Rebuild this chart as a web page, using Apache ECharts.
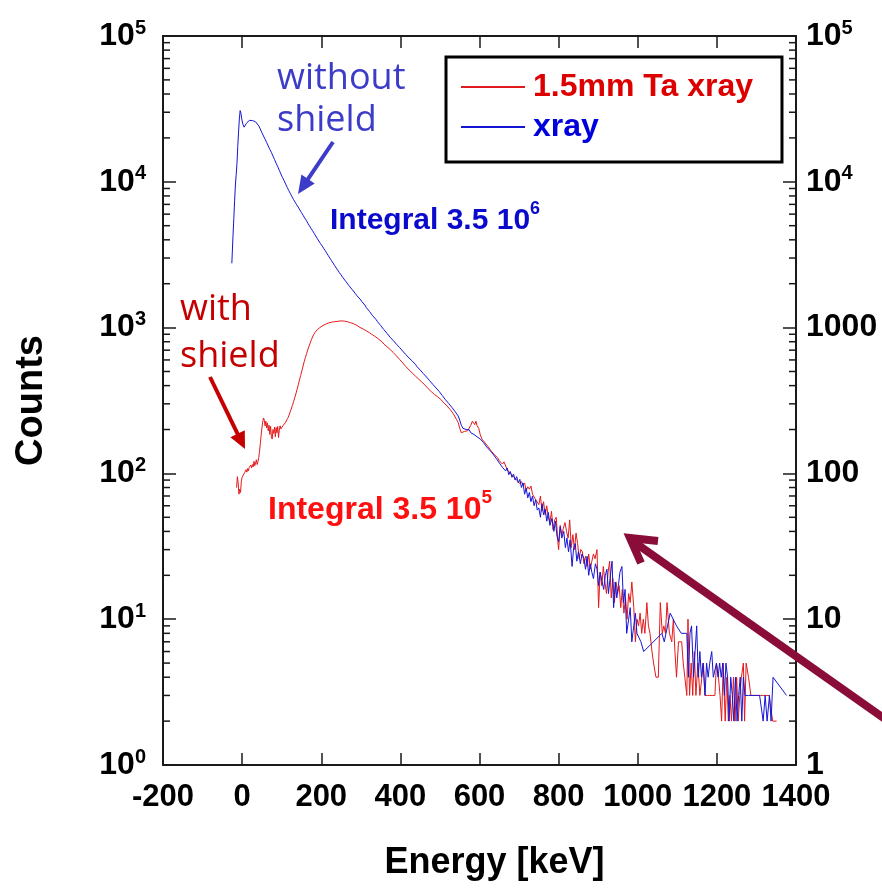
<!DOCTYPE html>
<html>
<head>
<meta charset="utf-8">
<title>Energy spectrum with and without Ta shield</title>
<script src="https://cdn.jsdelivr.net/npm/echarts@6/dist/echarts.min.js"></script>
<style>
  html, body { margin: 0; padding: 0; background: #fff; }
  #chart { width: 882px; height: 891px; }
</style>
</head>
<body>
<div id="chart"></div>
<script>
// ---- data: [energy keV, counts] ----
const shieldedSpectrum = [
  [-14,80],[-12,95],[-10,86],[-8,72],[-6,78],[-4,74],[-2,88],[0,94],[2,97],[4,92],[6,101],[8,98],
  [10,106],[12,102],[14,108],[16,104],[18,110],[20,107],[22,114],[24,109],[26,115],[28,111],[30,121],
  [32,113],[34,118],[36,124],[38,115],[40,120],[42,128],[44,142],[46,160],[48,182],[50,205],[52,225],
  [54,240],[56,232],[58,212],[60,228],[62,205],[64,222],[66,196],[68,214],[70,185],[72,210],[74,178],
  [76,172],[78,200],[80,188],[82,208],[84,178],[86,206],[88,190],[90,210],[92,176],[94,198],[96,212],
  [98,202],[100,208],[103,212],[106,215],[109,222],[112,226],[115,238],[118,248],[121,262],[124,276],
  [127,292],[130,310],[133,330],[136,352],[139,378],[142,405],[145,438],[148,470],[151,505],[154,545],
  [157,585],[160,625],[163,665],[166,705],[169,745],[172,785],[175,825],[178,862],[181,895],[184,925],
  [187,948],[190,968],[193,985],[196,998],[199,1012],[202,1025],[206,1040],[210,1052],[214,1060],
  [218,1075],[222,1082],[226,1090],[230,1100],[234,1098],[238,1110],[242,1104],[246,1118],[250,1112],
  [254,1116],[258,1108],[262,1112],[266,1098],[270,1092],[274,1080],[278,1070],[282,1062],[286,1045],
  [290,1036],[294,1015],[298,1002],[302,985],[306,978],[310,958],[314,950],[318,930],[322,922],[326,900],
  [330,890],[334,870],[338,862],[342,840],[346,830],[350,808],[354,798],[358,772],[362,762],[366,740],
  [370,728],[374,708],[378,698],[382,675],[386,665],[390,640],[394,628],[398,605],[402,595],[406,572],
  [410,562],[414,540],[418,532],[422,512],[426,505],[430,488],[434,478],[438,465],[442,456],[446,444],
  [450,436],[454,424],[458,418],[462,404],[466,396],[470,382],[474,378],[478,364],[482,358],[486,348],
  [490,345],[494,336],[498,334],[502,322],[506,316],[510,304],[514,302],[518,290],[522,288],[526,274],
  [530,270],[534,256],[538,250],[542,234],[546,224],[550,204],[554,190],[558,188],[562,194],[566,190],
  [570,196],[574,200],[578,214],[582,228],[585,232],[588,216],[591,228],[594,212],[598,204],[602,184],
  [606,172],[610,170],[614,162],[618,160],[622,152],[626,150],[630,142],[634,140],[638,134],[642,130],
  [646,128],[650,122],[654,124],[658,116],[662,120],[666,117],[670,106],[674,108],[678,100],[682,103],
  [686,95],[690,98],[694,90],[698,92],[702,85],[706,88],[710,83],[714,86],[718,76],[722,81],[726,78],
  [730,82],[734,72],[738,74],[742,66],[746,68],[750,61],[754,70],[758,55],[762,64],[766,52],[770,60],
  [774,50],[778,46],[782,55],[786,41],[790,48],[794,50],[798,34],[800,30],[804,44],[808,38],[812,42],
  [816,46],[820,40],[824,36],[828,48],[832,31],[836,38],[840,30],[844,39],[848,33],[852,26],[856,30],
  [860,29],[864,24],[868,27],[872,23],[876,28],[880,22],[884,25],[888,28],[892,26],[897,30],[901,12],
  [905,21],[909,17],[913,23],[917,18],[921,15],[925,21],[929,25],[933,14],[937,19],[941,13],[945,18],
  [949,15],[953,17],[957,12],[961,16],[965,11],[969,14],[973,10],[977,15],[981,13],[985,18],[990,12],
  [994,7],[998,10],[1002,9],[1006,11],[1010,8],[1014,10],[1018,8],[1023,13],[1027,9],[1031,8],[1036,6],
  [1040,5],[1046,4],[1052,4],[1057,13],[1062,8],[1066,9],[1070,8],[1074,13],[1080,8],[1086,7],[1090,10],
  [1094,6],[1098,4],[1103,7],[1111,7],[1115,5],[1119,4],[1124,3],[1127,10],[1131,3],[1135,5],[1139,3],
  [1143,6],[1147,3],[1152,5],[1157,3],[1162,3],[1166,5],[1170,3],[1176,3],[1182,3],[1188,3],[1195,3],
  [1199,5],[1204,4],[1208,3],[1212,2],[1216,5],[1221,2],[1225,4],[1229,2],[1233,3],[1237,2],[1242,4],
  [1246,2],[1250,4],[1254,2],[1258,3],[1262,4],[1267,5],[1270,2],[1274,5],[1280,4],[1286,3],[1294,3],
  [1302,3],[1310,3],[1318,3],[1326,3],[1332,3],[1341,2],[1351,2]
];

const openSpectrum = [
  [-26,2760],[-23,4300],[-21,5600],[-19,7400],[-17,9500],[-15,11200],[-13,13400],[-11,17500],[-9,22000],
  [-7,27000],[-5,30800],[-3,29500],[-1,27000],[2,24800],[5,23700],[8,24200],[11,25200],[14,26000],
  [18,26400],[22,26500],[26,26300],[30,26100],[34,25800],[38,25200],[42,24200],[46,23000],[50,21700],
  [54,20600],[58,19600],[62,18600],[66,17600],[70,16700],[74,15900],[78,15000],[82,14200],[86,13400],
  [90,12700],[94,12000],[98,11300],[102,10700],[106,10200],[110,9650],[114,9150],[118,8700],[122,8300],
  [126,7900],[130,7550],[134,7250],[138,6950],[142,6700],[146,6400],[150,6150],[154,5900],[158,5650],
  [162,5450],[166,5200],[170,5000],[174,4800],[178,4620],[182,4430],[186,4250],[190,4080],[194,3920],
  [198,3770],[202,3640],[206,3500],[210,3370],[214,3240],[218,3110],[222,2990],[226,2880],[230,2770],
  [234,2660],[238,2560],[242,2470],[246,2380],[250,2300],[254,2215],[258,2150],[262,2075],[266,2015],
  [270,1940],[274,1890],[278,1825],[282,1770],[286,1715],[290,1655],[294,1610],[298,1570],[302,1515],
  [306,1470],[310,1430],[314,1370],[318,1335],[322,1290],[326,1255],[330,1205],[334,1175],[338,1140],
  [342,1100],[346,1075],[350,1035],[354,1010],[358,970],[362,950],[366,915],[370,890],[374,860],
  [378,845],[382,815],[386,795],[390,770],[394,755],[398,730],[402,712],[406,690],[410,678],[414,652],
  [418,640],[422,618],[426,606],[430,590],[434,572],[438,560],[442,540],[446,530],[450,512],[454,500],
  [458,484],[462,476],[466,458],[470,450],[474,432],[478,425],[482,408],[486,402],[490,386],[494,380],
  [498,365],[502,358],[506,342],[510,337],[514,320],[518,316],[522,302],[526,298],[530,284],[534,280],
  [538,266],[542,258],[546,248],[550,232],[554,214],[558,204],[562,198],[566,200],[570,194],[574,199],
  [578,190],[582,192],[586,185],[590,188],[594,178],[598,181],[602,172],[606,170],[610,163],[614,165],
  [618,152],[622,155],[626,144],[630,146],[634,136],[638,138],[642,127],[646,130],[650,118],[654,121],
  [658,110],[662,113],[666,104],[670,109],[674,98],[678,103],[682,94],[686,99],[690,90],[694,95],
  [698,86],[702,91],[706,80],[710,86],[714,72],[718,79],[722,68],[726,74],[730,64],[734,70],[738,60],
  [742,66],[746,56],[750,58],[754,50],[758,62],[762,52],[766,57],[770,47],[774,54],[778,44],[783,49],
  [788,40],[792,47],[796,37],[800,34],[804,43],[808,36],[813,40],[817,31],[821,36],[825,29],[829,35],
  [834,23],[838,31],[842,33],[846,25],[850,29],[855,24],[859,28],[864,26],[868,22],[872,27],[876,20],
  [880,24],[884,21],[888,19],[893,24],[897,22],[901,17],[905,21],[910,18],[914,16],[918,20],[922,22],
  [926,15],[930,19],[935,25],[939,12],[943,18],[947,14],[951,17],[955,21],[960,23],[964,13],[968,16],
  [972,8],[977,10],[981,12],[985,7],[990,9],[994,11],[998,8],[1002,8],[1008,7],[1015,6],[1061,8],
  [1067,7],[1082,11],[1098,9],[1110,8],[1115,8],[1124,8],[1128,4],[1132,8],[1136,9],[1141,4],[1145,6],
  [1149,9],[1153,4],[1157,6],[1161,4],[1165,5],[1170,3],[1174,5],[1178,4],[1182,5],[1187,6],[1191,4],
  [1195,4],[1199,5],[1203,4],[1207,5],[1211,4],[1215,5],[1219,3],[1223,5],[1227,4],[1231,2],[1235,4],
  [1239,3],[1243,2],[1247,4],[1251,2],[1255,3],[1259,4],[1263,2],[1267,4],[1271,3],[1275,3],[1280,3],
  [1284,3],[1292,3],[1300,3],[1308,3],[1317,2],[1322,3],[1327,2],[1333,3],[1337,2],[1342,4],[1376,3]
];

// ---- axis ticks and labels ----
const energyMin = -200, energyMax = 1400, energyStep = 200;
const countTicks = [1, 10, 100, 1000, 10000, 100000];
const leftTickExponents = ['0', '1', '2', '3', '4', '5'];
const rightTickLabels = ['1', '10', '100', '1000', '10^4', '10^5'];
const minorCountTicks = [
  2, 3, 4, 5, 6, 7, 8, 9,
  20, 30, 40, 50, 60, 70, 80, 90,
  200, 300, 400, 500, 600, 700, 800, 900,
  2000, 3000, 4000, 5000, 6000, 7000, 8000, 9000,
  20000, 30000, 40000, 50000, 60000, 70000, 80000, 90000
];

const FONT = 'Liberation Sans, Arial, sans-serif';
const SOFT = 'Open Sans, Noto Sans, sans-serif';
const AXIS = '#1a1a1a';

function tickIndex(v) {
  let best = 0;
  countTicks.forEach((t, i) => {
    if (Math.abs(Math.log10(t) - Math.log10(v)) < Math.abs(Math.log10(countTicks[best]) - Math.log10(v))) best = i;
  });
  return best;
}

const supRich = {
  b: { fontFamily: FONT, fontWeight: 'bold', fontSize: 32, color: '#000' },
  s: { fontFamily: FONT, fontWeight: 'bold', fontSize: 20, color: '#000', padding: [0, 0, 16, 0] }
};

function arrow(x1, y1, x2, y2, color, width, headLen, headHalf) {
  const dx = x2 - x1, dy = y2 - y1, len = Math.hypot(dx, dy);
  const ux = dx / len, uy = dy / len;
  const bx = x2 - ux * headLen, by = y2 - uy * headLen;
  return [
    { type: 'line', z: 50, shape: { x1: x1, y1: y1, x2: bx + ux * 2, y2: by + uy * 2 },
      style: { stroke: color, lineWidth: width } },
    { type: 'polygon', z: 50,
      shape: { points: [[x2, y2], [bx - uy * headHalf, by + ux * headHalf], [bx + uy * headHalf, by - ux * headHalf]] },
      style: { fill: color } }
  ];
}

const chart = echarts.init(document.getElementById('chart'), null, { renderer: 'canvas' });

const baseX = {
  type: 'value', min: energyMin, max: energyMax, interval: energyStep,
  splitLine: { show: false },
  axisLine: { show: true, onZero: false, lineStyle: { color: AXIS, width: 2 } },
  axisTick: { show: true, inside: true, length: 12, lineStyle: { color: AXIS, width: 1.5 } }
};
const baseY = {
  type: 'log', logBase: 10, min: 1, max: 100000,
  splitLine: { show: false },
  axisLine: { show: true, onZero: false, lineStyle: { color: AXIS, width: 2 } },
  axisTick: { show: true, inside: true, length: 13, lineStyle: { color: AXIS, width: 1.5 } }
};

chart.setOption({
  animation: false,
  backgroundColor: '#fff',
  grid: { left: 163, right: 86, top: 36, bottom: 126, containLabel: false },
  xAxis: [
    Object.assign({}, baseX, {
      position: 'bottom',
      name: 'Energy [keV]', nameLocation: 'middle', nameGap: 80,
      nameTextStyle: { fontFamily: FONT, fontWeight: 'bold', fontSize: 36, color: '#000', padding: [0, 0, 0, 30] },
      axisLabel: { show: true, margin: 17, fontFamily: FONT, fontWeight: 'bold', fontSize: 31, color: '#000',
        formatter: v => String(v) }
    }),
    Object.assign({}, baseX, { position: 'top', axisLabel: { show: false } })
  ],
  yAxis: [
    Object.assign({}, baseY, {
      position: 'left',
      name: 'Counts', nameLocation: 'middle', nameGap: 112, nameRotate: 90,
      nameTextStyle: { fontFamily: FONT, fontWeight: 'bold', fontSize: 38, color: '#000' },
      axisLabel: {
        show: true, margin: 17,
        formatter: v => '{b|10}{s|' + leftTickExponents[tickIndex(v)] + '}',
        rich: supRich
      }
    }),
    Object.assign({}, baseY, {
      position: 'right',
      axisLabel: {
        show: true, margin: 10,
        formatter: v => {
          const t = rightTickLabels[tickIndex(v)];
          return t.indexOf('^') >= 0 ? '{b|' + t.split('^')[0] + '}{s|' + t.split('^')[1] + '}' : '{b|' + t + '}';
        },
        rich: supRich
      }
    })
  ],
  legend: {
    left: 446, top: 57, orient: 'vertical',
    padding: [12, 29, 17, 15], itemGap: 4,
    itemWidth: 64, itemHeight: 2, icon: 'rect',
    backgroundColor: '#fff', borderColor: '#000', borderWidth: 3, borderRadius: 0,
    selectedMode: false,
    textStyle: { fontFamily: FONT, fontWeight: 'bold', fontSize: 32, lineHeight: 36, padding: [0, 0, 0, 3] },
    data: [
      { name: '1.5mm Ta xray', textStyle: { color: '#dd0000' } },
      { name: 'xray', textStyle: { color: '#0000dd' } }
    ]
  },
  series: [
    {
      name: '1.5mm Ta xray', type: 'line', data: shieldedSpectrum,
      xAxisIndex: 0, yAxisIndex: 0, showSymbol: false, symbol: 'none',
      lineStyle: { color: '#e31a1c', width: 1 }, itemStyle: { color: '#e31a1c' }, z: 3
    },
    {
      name: 'xray', type: 'line', data: openSpectrum,
      xAxisIndex: 0, yAxisIndex: 0, showSymbol: false, symbol: 'none',
      lineStyle: { color: '#1515d5', width: 1 }, itemStyle: { color: '#1515d5' }, z: 4
    },
    {
      // minor log ticks (2..9 per decade) on both vertical axes
      name: 'minor ticks', type: 'custom', silent: true, clip: false, z: 5,
      xAxisIndex: 0, yAxisIndex: 0,
      data: minorCountTicks.map(v => [energyMin, v]),
      renderItem: (params, api) => {
        const v = api.value(1);
        const pl = api.coord([energyMin, v]);
        const pr = api.coord([energyMax, v]);
        const st = { stroke: AXIS, lineWidth: 1.5 };
        return {
          type: 'group',
          children: [
            { type: 'line', shape: { x1: pl[0], y1: pl[1], x2: pl[0] + 7, y2: pl[1] }, style: st },
            { type: 'line', shape: { x1: pr[0], y1: pr[1], x2: pr[0] - 7, y2: pr[1] }, style: st }
          ]
        };
      }
    }
  ],
  graphic: [
    { type: 'text', z: 50, left: 277, top: 58,
      style: { text: 'without\nshield', font: '36px ' + SOFT, fill: '#3c3cc8', lineHeight: 42 } },
    { type: 'text', z: 50, left: 180, top: 286,
      style: { text: 'with\nshield', font: '36px ' + SOFT, fill: '#c40000', lineHeight: 47 } },
    { type: 'text', z: 50, left: 330, top: 200,
      style: {
        text: '{a|Integral 3.5 10}{s|6}',
        rich: {
          a: { font: 'bold 30px ' + FONT, fill: '#0a0acc' },
          s: { font: 'bold 18px ' + FONT, fill: '#0a0acc', padding: [0, 0, 24, 0] }
        }
      } },
    { type: 'text', z: 50, left: 268, top: 488,
      style: {
        text: '{a|Integral 3.5 10}{s|5}',
        rich: {
          a: { font: 'bold 32px ' + FONT, fill: '#ff1010' },
          s: { font: 'bold 19px ' + FONT, fill: '#ff1010', padding: [0, 0, 26, 0] }
        }
      } },
    ...arrow(333, 142, 298, 194, '#3c3cc8', 4, 18, 8),
    ...arrow(210, 377, 245, 449, '#c40000', 4, 17, 8),
    { type: 'line', z: 50, shape: { x1: 892, y1: 724, x2: 634, y2: 542 },
      style: { stroke: '#8a0c38', lineWidth: 8, lineCap: 'butt' } },
    { type: 'polyline', z: 50, shape: { points: [[658, 541], [630, 538], [641, 563]] },
      style: { stroke: '#8a0c38', lineWidth: 8, lineJoin: 'miter', fill: null } }
  ]
});
</script>
</body>
</html>
